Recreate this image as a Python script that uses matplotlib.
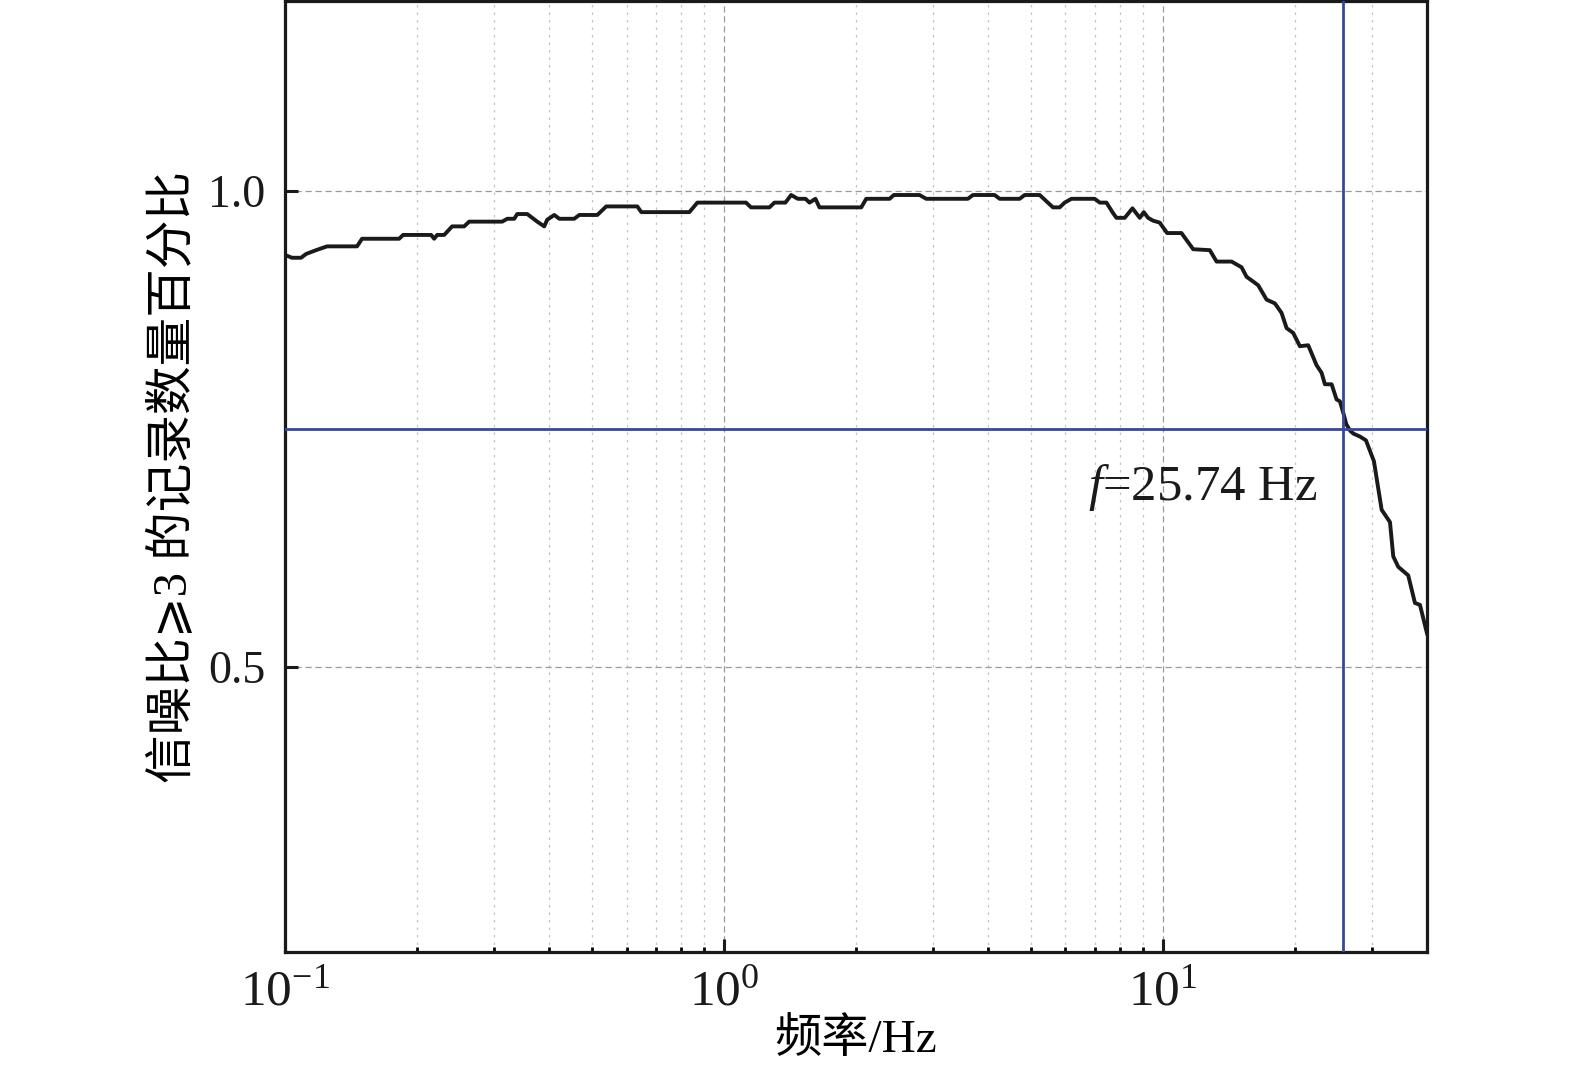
import numpy as np
import matplotlib
matplotlib.use("Agg")
import matplotlib.pyplot as plt
from matplotlib.ticker import LogLocator, NullFormatter, FuncFormatter

plt.rcParams['font.family'] = ['Liberation Serif', 'Noto Sans CJK SC', 'DejaVu Sans']
plt.rcParams['mathtext.fontset'] = 'custom'
plt.rcParams['mathtext.rm'] = 'Liberation Serif'
plt.rcParams['mathtext.it'] = 'Liberation Serif:italic'

# ---- data ----
freq = [0.100, 0.1037, 0.1088, 0.1117, 0.1177, 0.1247, 0.1459, 0.1498, 0.1820, 0.1858,
        0.2153, 0.2187, 0.2222, 0.2305, 0.2403, 0.2560, 0.2628, 0.3126, 0.3209, 0.3329,
        0.3382, 0.3564, 0.3756, 0.3896, 0.3958, 0.4107, 0.4217, 0.4561, 0.4683, 0.5147,
        0.5395, 0.6349, 0.6484, 0.8343, 0.8702, 1.123, 1.153, 1.270, 1.304, 1.381,
        1.423, 1.474, 1.535, 1.567, 1.617, 1.651, 2.056, 2.110, 2.385, 2.439,
        2.791, 2.891, 3.597, 3.693, 4.140, 4.250, 4.720, 4.845, 5.243, 5.621,
        5.823, 5.977, 6.191, 6.998, 7.184, 7.441, 7.704, 7.843, 8.191, 8.530,
        8.864, 9.052, 9.259, 9.505, 9.84, 10.23, 11.03, 11.73, 12.80, 13.26,
        14.35, 15.12, 15.52, 16.07, 16.50, 17.24, 18.01, 18.65, 19.15, 19.82,
        20.53, 21.45, 22.41, 23.01, 23.41, 24.25, 24.89, 25.33, 25.78, 26.19,
        26.74, 27.21, 28.14, 29.04, 30.28, 31.53, 32.94, 33.51, 34.40, 36.25,
        37.55, 38.55, 40.0]
ratio = [0.933, 0.930, 0.930, 0.934, 0.938, 0.942, 0.942, 0.950, 0.950, 0.954,
         0.954, 0.950, 0.954, 0.954, 0.963, 0.963, 0.968, 0.968, 0.971, 0.971,
         0.976, 0.976, 0.968, 0.963, 0.970, 0.975, 0.971, 0.971, 0.975, 0.975,
         0.984, 0.984, 0.978, 0.978, 0.988, 0.988, 0.983, 0.983, 0.988, 0.988,
         0.996, 0.992, 0.992, 0.988, 0.992, 0.983, 0.983, 0.992, 0.992, 0.996,
         0.996, 0.992, 0.992, 0.996, 0.996, 0.992, 0.992, 0.996, 0.996, 0.983,
         0.983, 0.988, 0.992, 0.992, 0.988, 0.988, 0.977, 0.972, 0.972, 0.982,
         0.972, 0.978, 0.972, 0.969, 0.967, 0.956, 0.956, 0.939, 0.938, 0.926,
         0.926, 0.920, 0.910, 0.905, 0.901, 0.886, 0.882, 0.872, 0.856, 0.851,
         0.837, 0.838, 0.817, 0.809, 0.797, 0.797, 0.781, 0.779, 0.767, 0.755,
         0.748, 0.745, 0.742, 0.738, 0.716, 0.665, 0.652, 0.616, 0.605, 0.596,
         0.567, 0.565, 0.535]

f_cut = 25.74
r_cut = 0.75
xlim = (0.1, 40)
ylim = (0.2, 1.2)
yticks = [0.5, 1.0]
xlabel = '频率/Hz'
ylabel = '信噪比⩾3 的记录数量百分比'
note = '$f$=25.74 Hz'

blue = '#34499a'
ink = '#1a1a1a'

fig = plt.figure(figsize=(15.75, 10.74), dpi=100)
ax = fig.add_axes([285 / 1575, 1 - 952 / 1074, (1427 - 285) / 1575, (951 / 1074)])

ax.plot(freq, ratio, color=ink, lw=2.8, zorder=3)
ax.axvline(f_cut, color=blue, lw=2.0, zorder=4)
ax.axhline(r_cut, color=blue, lw=2.0, zorder=4)

ax.set_xscale('log')
ax.set_xlim(*xlim)
ax.set_ylim(*ylim)
ax.set_yticks(yticks)
ax.set_yticklabels(['%.1f' % v for v in yticks])
ax.xaxis.set_major_formatter(FuncFormatter(
    lambda v, p: '10$^{\\mathregular{%s}}$' % ('%d' % round(np.log10(v))).replace('-', '-')))
ax.xaxis.set_minor_locator(LogLocator(base=10, subs=np.arange(2, 10)))
ax.xaxis.set_minor_formatter(NullFormatter())

ax.grid(which='major', axis='both', color='#9a9a9a', ls=(0, (5, 3)), lw=0.9)
ax.grid(which='minor', axis='x', color='#c4c4c4', ls=(0, (2, 4)), lw=0.9)
ax.set_axisbelow(True)

for s in ax.spines.values():
    s.set_linewidth(2.3)
    s.set_color(ink)
ax.tick_params(which='major', direction='in', length=9.5, width=2.2, labelsize=33,
               pad=14, colors=ink)
ax.tick_params(axis='x', which='major', labelsize=37, pad=12)
ax.tick_params(which='minor', direction='in', length=3.8, width=2.0)

ax.set_xlabel(xlabel, fontsize=34, labelpad=2)
ax.set_ylabel(ylabel, fontsize=35, labelpad=8)

ax.text(22.5, 0.688, note, fontsize=36.5, ha='right', va='center', color=ink)

fig.savefig('out.png', dpi=100)
